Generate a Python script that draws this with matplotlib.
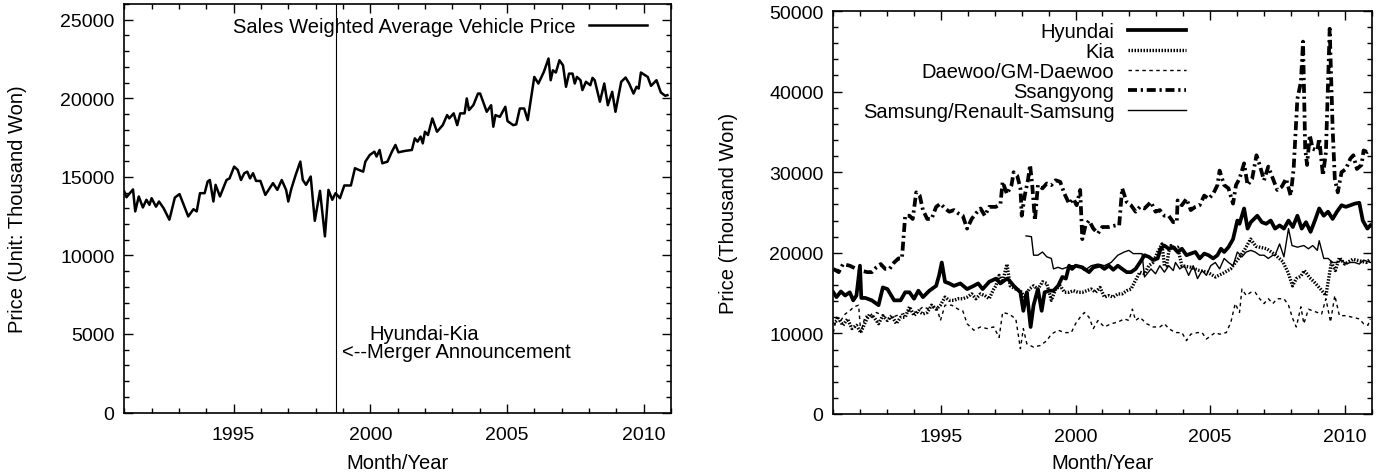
import matplotlib
matplotlib.use('Agg')
import matplotlib.pyplot as plt
from matplotlib.ticker import MultipleLocator

plt.rcParams['font.family'] = ['Liberation Sans', 'DejaVu Sans']
plt.rcParams['font.size'] = 14.5

# ---------------- Left panel: sales weighted average price ----------------
avg_year = [1991.00, 1991.08, 1991.32, 1991.40, 1991.53, 1991.68, 1991.81, 1991.92, 1992.00,
            1992.16, 1992.27, 1992.44, 1992.65, 1992.85, 1993.02, 1993.34, 1993.53, 1993.65,
            1993.77, 1993.94, 1994.05, 1994.13, 1994.26, 1994.34, 1994.50, 1994.74, 1994.85,
            1995.02, 1995.15, 1995.27, 1995.39, 1995.50, 1995.60, 1995.71, 1995.82, 1995.98,
            1996.16, 1996.44, 1996.60, 1996.76, 1996.92, 1997.00, 1997.11, 1997.27, 1997.44,
            1997.53, 1997.65, 1997.82, 1997.97, 1998.16, 1998.34, 1998.47, 1998.61, 1998.73,
            1998.89, 1999.05, 1999.29, 1999.44, 1999.58, 1999.74, 1999.82, 1999.98, 2000.15,
            2000.23, 2000.34, 2000.44, 2000.63, 2000.79, 2000.92, 2001.03, 2001.27, 2001.52,
            2001.63, 2001.73, 2001.84, 2001.92, 2002.00, 2002.11, 2002.27, 2002.44, 2002.65,
            2002.81, 2002.89, 2003.05, 2003.18, 2003.29, 2003.45, 2003.53, 2003.61, 2003.77,
            2003.94, 2004.02, 2004.26, 2004.42, 2004.50, 2004.58, 2004.74, 2004.94, 2005.02,
            2005.23, 2005.34, 2005.47, 2005.63, 2005.76, 2006.00, 2006.15, 2006.35, 2006.52,
            2006.60, 2006.68, 2006.79, 2006.92, 2007.05, 2007.16, 2007.27, 2007.40, 2007.48,
            2007.56, 2007.69, 2007.76, 2007.89, 2008.05, 2008.13, 2008.21, 2008.40, 2008.56,
            2008.69, 2008.85, 2008.97, 2009.18, 2009.34, 2009.47, 2009.63, 2009.74, 2009.82,
            2009.90, 2010.15, 2010.27, 2010.47, 2010.63, 2010.79, 2010.87]
avg_price = [14065, 13700, 14200, 12800, 13750, 13050, 13540, 13220, 13640,
             13100, 13430, 13000, 12270, 13680, 13900, 12480, 12940, 12800,
             13960, 13960, 14700, 14800, 13430, 14490, 13750, 14800, 14900,
             15650, 15440, 14800, 15230, 15330, 14900, 15230, 14740, 14740,
             13850, 14600, 14170, 14800, 14170, 13430, 14230, 15120, 15970,
             14800, 14490, 15020, 12200, 14110, 11210, 14170, 13540, 13960,
             13640, 14450, 14450, 15550, 15440, 15330, 15970, 16390, 16600,
             16290, 16710, 15860, 15970, 16600, 17030, 16560, 16650, 16710,
             17450, 17240, 17560, 17130, 17870, 17660, 18720, 17870, 18290,
             18930, 18720, 19040, 18290, 19040, 19040, 19990, 19250, 19560,
             20300, 20300, 19140, 19560, 18190, 18930, 18820, 19460, 18550,
             18290, 18340, 19350, 19350, 18610, 21360, 20940, 21680, 22530,
             21150, 21780, 21640, 22420, 22100, 20730, 21570, 21570, 20940,
             21360, 21150, 20520, 21050, 20830, 21300, 21150, 19780, 20940,
             19560, 20410, 19140, 21050, 21320, 20940, 20300, 20730, 20620,
             21640, 21360, 20790, 21150, 20370, 20160, 20200]
merger_year = 1998.74

# ---------------- Right panel: price by maker ----------------
hy_year = [1991.00, 1991.12, 1991.28, 1991.44, 1991.61, 1991.74, 1991.86, 1991.99, 1992.04,
           1992.19, 1992.43, 1992.68, 1992.84, 1993.01, 1993.26, 1993.50, 1993.67, 1993.83,
           1994.00, 1994.16, 1994.33, 1994.57, 1994.82, 1994.93, 1995.03, 1995.15, 1995.31,
           1995.48, 1995.72, 1995.97, 1996.22, 1996.38, 1996.55, 1996.79, 1997.04, 1997.21,
           1997.45, 1997.53, 1997.70, 1997.95, 1998.06, 1998.19, 1998.33, 1998.44, 1998.60,
           1998.74, 1998.85, 1999.02, 1999.18, 1999.35, 1999.51, 1999.64, 1999.76, 1999.87,
           2000.00, 2000.25, 2000.50, 2000.66, 2000.91, 2001.07, 2001.24, 2001.40, 2001.57,
           2001.73, 2001.90, 2002.06, 2002.23, 2002.39, 2002.56, 2002.72, 2002.88, 2003.05,
           2003.16, 2003.30, 2003.46, 2003.63, 2003.79, 2003.95, 2004.12, 2004.28, 2004.45,
           2004.61, 2004.78, 2004.94, 2005.11, 2005.27, 2005.40, 2005.52, 2005.68, 2005.85,
           2006.01, 2006.09, 2006.26, 2006.39, 2006.51, 2006.75, 2006.92, 2007.08, 2007.25,
           2007.41, 2007.58, 2007.74, 2007.91, 2008.07, 2008.24, 2008.40, 2008.56, 2008.73,
           2008.89, 2009.05, 2009.22, 2009.38, 2009.55, 2009.71, 2009.88, 2010.04, 2010.21,
           2010.37, 2010.54, 2010.67, 2010.84, 2010.95]
hy_price = [15100, 14500, 15200, 14700, 15100, 14100, 14700, 18400, 14400,
            14400, 14100, 13500, 15700, 15500, 14100, 14100, 15100, 15100,
            14300, 15300, 14500, 15300, 15900, 17200, 18800, 16400, 16200,
            15900, 16200, 15500, 15900, 16200, 15500, 16400, 16800, 16200,
            16800, 16600, 15900, 15100, 12800, 15100, 10800, 13500, 15500,
            12800, 15100, 15300, 15300, 15900, 17000, 16800, 18400, 18000,
            18400, 18200, 17600, 18200, 18400, 18000, 18400, 17900, 18400,
            18000, 17600, 17600, 18000, 18800, 19700, 19500, 19100, 19300,
            20500, 20900, 20500, 20700, 20100, 20500, 19700, 19900, 20100,
            19300, 19900, 19700, 19300, 19700, 20500, 20100, 20700, 21700,
            24000, 23600, 25500, 23000, 23800, 24600, 23800, 23600, 24000,
            23000, 23400, 23000, 24000, 23200, 24600, 23000, 23800, 22600,
            24000, 25500, 24600, 25100, 24200, 25100, 25900, 25700, 25900,
            26100, 26200, 24000, 23000, 23400]

kia_year = [1991.00, 1991.20, 1991.36, 1991.53, 1991.69, 1991.86, 1992.02, 1992.19, 1992.35,
            1992.51, 1992.68, 1992.84, 1993.01, 1993.17, 1993.34, 1993.50, 1993.67, 1993.83,
            1994.00, 1994.16, 1994.33, 1994.49, 1994.65, 1994.82, 1994.98, 1995.15, 1995.31,
            1995.48, 1995.64, 1995.81, 1995.97, 1996.14, 1996.30, 1996.47, 1996.63, 1996.79,
            1996.96, 1997.04, 1997.16, 1997.29, 1997.45, 1997.57, 1997.78, 1997.95, 1998.11,
            1998.28, 1998.44, 1998.60, 1998.77, 1998.93, 1999.10, 1999.26, 1999.43, 1999.59,
            1999.76, 1999.92, 2000.09, 2000.25, 2000.42, 2000.58, 2000.74, 2000.91, 2001.07,
            2001.24, 2001.40, 2001.57, 2001.73, 2001.90, 2002.06, 2002.23, 2002.39, 2002.56,
            2002.72, 2002.88, 2003.05, 2003.21, 2003.30, 2003.38, 2003.46, 2003.54, 2003.63,
            2003.79, 2003.95, 2004.28, 2004.60, 2004.90, 2005.20, 2005.50, 2005.76, 2006.10,
            2006.30, 2006.50, 2006.70, 2007.10, 2007.40, 2007.70, 2007.90, 2008.06, 2008.20,
            2008.37, 2008.50, 2008.70, 2008.86, 2009.10, 2009.30, 2009.50, 2009.65, 2009.80,
            2010.00, 2010.30, 2010.55, 2010.80, 2010.95]
kia_price = [11200, 11800, 11000, 11800, 10600, 11000, 10100, 11400, 12400,
             12000, 11200, 12200, 11600, 12200, 11200, 12000, 12000, 13300,
             12200, 12800, 12400, 12600, 13500, 13000, 13500, 14500, 14100,
             14100, 14300, 14300, 14500, 14900, 14300, 14900, 14700, 14300,
             15500, 15900, 17200, 16400, 18600, 15900, 15500, 15300, 14500,
             15500, 15900, 15500, 16400, 16200, 14100, 15500, 15900, 15100,
             15100, 15300, 15100, 15100, 15300, 15500, 15100, 15700, 14500,
             14700, 14500, 14900, 14900, 15300, 15500, 16600, 17600, 17400,
             18400, 18800, 20100, 21100, 18400, 18400, 20100, 20900, 20500,
             20700, 18400, 18200, 17800, 17600, 17000, 17500, 18000, 19500,
             20500, 21700, 20800, 20500, 19800, 18900, 17500, 15900, 16800,
             17100, 17800, 16900, 16400, 15500, 14700, 18800, 17800, 19400,
             18600, 19200, 19000, 18800, 19200]

dw_year = [1991.00, 1991.12, 1991.28, 1991.44, 1991.61, 1991.77, 1991.94, 1992.02, 1992.19,
           1992.35, 1992.60, 1992.84, 1993.09, 1993.34, 1993.58, 1993.83, 1994.08, 1994.33,
           1994.57, 1994.82, 1994.98, 1995.15, 1995.40, 1995.64, 1995.81, 1995.97, 1996.22,
           1996.47, 1996.71, 1996.96, 1997.16, 1997.29, 1997.53, 1997.78, 1997.95, 1998.06,
           1998.19, 1998.44, 1998.69, 1998.93, 1999.10, 1999.35, 1999.59, 1999.84, 2000.00,
           2000.17, 2000.33, 2000.50, 2000.66, 2000.83, 2001.07, 2001.32, 2001.57, 2001.81,
           2001.98, 2002.11, 2002.23, 2002.39, 2002.64, 2002.88, 2003.13, 2003.30, 2003.46,
           2003.71, 2003.95, 2004.12, 2004.28, 2004.53, 2004.70, 2004.86, 2005.02, 2005.19,
           2005.35, 2005.60, 2005.77, 2005.93, 2006.09, 2006.18, 2006.34, 2006.51, 2006.67,
           2006.84, 2007.00, 2007.16, 2007.33, 2007.49, 2007.74, 2007.91, 2008.07, 2008.20,
           2008.37, 2008.48, 2008.65, 2008.81, 2008.98, 2009.14, 2009.30, 2009.47, 2009.63,
           2009.80, 2010.04, 2010.29, 2010.54, 2010.70, 2010.86, 2010.95]
dw_price = [10100, 12000, 11600, 12400, 12800, 13300, 13500, 10100, 12200,
            11800, 12600, 12200, 11800, 12200, 12400, 12800, 12600, 13300,
            13000, 13500, 11600, 13500, 13500, 13000, 12800, 11200, 10400,
            10800, 10600, 10800, 9500, 12600, 12400, 11800, 8100, 10600,
            8700, 8300, 8500, 9100, 9900, 10400, 10100, 10100, 11200,
            12000, 12600, 12000, 10600, 11600, 10800, 11200, 11400, 11800,
            11600, 13000, 11600, 12000, 11200, 10800, 10800, 11200, 10600,
            10100, 10100, 9100, 9900, 10100, 10100, 9300, 9700, 10100,
            9900, 10100, 11400, 13700, 12600, 15500, 14700, 15100, 15100,
            14300, 13700, 14300, 13700, 14300, 14300, 13500, 11800, 10800,
            13300, 11200, 13000, 12800, 12600, 12400, 14300, 11400, 14700,
            12200, 12200, 12000, 11800, 11200, 11000, 11800]

ss_year = [1991.00, 1991.20, 1991.36, 1991.61, 1991.86, 1992.02, 1992.27, 1992.43, 1992.60,
           1992.76, 1992.93, 1993.09, 1993.26, 1993.42, 1993.55, 1993.67, 1993.83, 1993.95,
           1994.08, 1994.21, 1994.33, 1994.49, 1994.65, 1994.82, 1994.98, 1995.15, 1995.31,
           1995.48, 1995.64, 1995.81, 1995.97, 1996.14, 1996.30, 1996.47, 1996.63, 1996.79,
           1997.04, 1997.21, 1997.29, 1997.45, 1997.62, 1997.70, 1997.83, 1997.95, 1998.00,
           1998.11, 1998.23, 1998.31, 1998.39, 1998.49, 1998.60, 1998.77, 1998.93, 1999.10,
           1999.26, 1999.43, 1999.59, 1999.76, 1999.92, 2000.04, 2000.17, 2000.25, 2000.37,
           2000.50, 2000.66, 2000.83, 2000.99, 2001.24, 2001.49, 2001.62, 2001.73, 2001.90,
           2002.06, 2002.23, 2002.39, 2002.56, 2002.80, 2002.97, 2003.13, 2003.30, 2003.46,
           2003.63, 2003.76, 2003.79, 2003.95, 2004.12, 2004.28, 2004.45, 2004.61, 2004.78,
           2004.94, 2005.11, 2005.27, 2005.35, 2005.52, 2005.68, 2005.85, 2005.96, 2006.09,
           2006.26, 2006.39, 2006.56, 2006.72, 2006.84, 2007.00, 2007.16, 2007.33, 2007.49,
           2007.66, 2007.82, 2007.99, 2008.10, 2008.24, 2008.37, 2008.45, 2008.53, 2008.60,
           2008.70, 2008.81, 2008.98, 2009.05, 2009.19, 2009.30, 2009.44, 2009.55, 2009.63,
           2009.74, 2009.88, 2010.04, 2010.21, 2010.32, 2010.45, 2010.62, 2010.70, 2010.84,
           2010.95]
ss_price = [18000, 17600, 18600, 18400, 18000, 17800, 17600, 17600, 18200,
            18600, 18000, 18000, 18800, 19300, 19300, 24600, 24600, 24200,
            27500, 27100, 25300, 24200, 24200, 25700, 26100, 25500, 25100,
            25300, 24900, 24600, 23000, 24200, 24900, 25500, 24600, 25700,
            25700, 26100, 28800, 27300, 28400, 30000, 29600, 28000, 24600,
            27100, 29000, 30900, 28400, 24000, 28400, 28000, 28600, 28400,
            29000, 28800, 27300, 26100, 26700, 25900, 27800, 21700, 23400,
            24000, 23000, 22400, 23200, 23200, 23400, 23400, 28000, 26300,
            25900, 25100, 25700, 25500, 26300, 25100, 25300, 24600, 24600,
            23800, 23800, 26500, 25900, 26700, 25300, 25700, 25900, 27100,
            26700, 27300, 28400, 30200, 28400, 28000, 26100, 28400, 29200,
            31100, 28400, 29200, 32100, 30900, 29000, 30700, 29200, 27800,
            28200, 29200, 27100, 30400, 39100, 41200, 46200, 32900, 30900,
            34600, 32900, 32700, 34200, 29600, 32500, 47800, 35400, 29200,
            27500, 30000, 30400, 31700, 32100, 30400, 30900, 32700, 32500,
            32700]

sm_year = [1998.16, 1998.36, 1998.44, 1998.60, 1998.77, 1998.93, 1999.10, 1999.18, 1999.35,
           1999.51, 1999.84, 2000.09, 2000.33, 2000.58, 2000.83, 2001.07, 2001.32, 2001.57,
           2001.81, 2001.98, 2002.14, 2002.47, 2002.56, 2002.80, 2002.97, 2003.13, 2003.30,
           2003.46, 2003.63, 2003.71, 2003.87, 2004.04, 2004.20, 2004.37, 2004.53, 2004.70,
           2004.86, 2005.02, 2005.19, 2005.35, 2005.52, 2005.68, 2005.85, 2006.01, 2006.18,
           2006.34, 2006.51, 2006.67, 2006.84, 2007.00, 2007.16, 2007.33, 2007.41, 2007.58,
           2007.74, 2007.91, 2008.04, 2008.24, 2008.48, 2008.65, 2008.81, 2008.98, 2009.05,
           2009.22, 2009.38, 2009.55, 2009.71, 2009.88, 2010.04, 2010.21, 2010.37, 2010.54,
           2010.70, 2010.95]
sm_price = [22100, 22000, 19700, 19700, 20100, 19500, 19300, 18000, 18200,
            18000, 18400, 18400, 17800, 18400, 18600, 18400, 18800, 19700,
            20100, 20300, 19900, 19900, 17000, 18000, 17400, 18400, 17600,
            18400, 17800, 18800, 18000, 18400, 17200, 18400, 16800, 17800,
            17200, 18400, 18800, 18000, 19300, 18800, 18400, 20100, 19500,
            20100, 20300, 20100, 19700, 19700, 19300, 19700, 19700, 21100,
            19500, 23000, 20900, 20700, 20900, 20500, 20900, 20300, 21500,
            19300, 19300, 18800, 18800, 19100, 18600, 18800, 18800, 18600,
            19100, 18800]

series = [
    ('Hyundai', hy_year, hy_price, dict(lw=2.7, ls='-')),
    ('Kia', kia_year, kia_price, dict(lw=2.4, ls=(0, (0.45, 0.45)))),
    ('Daewoo/GM-Daewoo', dw_year, dw_price, dict(lw=1.0, ls=(0, (2.5, 2.5)))),
    ('Ssangyong', ss_year, ss_price, dict(lw=2.7, ls=(0, (2.4, 1.0, 0.6, 1.0)))),
    ('Samsung/Renault-Samsung', sm_year, sm_price, dict(lw=1.0, ls='-')),
]

TICK_FS = 14
TEXT_FS = 14.5


def style(ax, ymax, ymajor, yminor):
    ax.set_xlim(1991, 2011)
    ax.set_ylim(0, ymax)
    ax.xaxis.set_major_locator(MultipleLocator(5))
    ax.xaxis.set_minor_locator(MultipleLocator(1))
    ax.yaxis.set_major_locator(MultipleLocator(ymajor))
    ax.yaxis.set_minor_locator(MultipleLocator(yminor))
    ax.tick_params(which='both', direction='in', top=True, right=True,
                   width=1.0, colors='black', labelsize=TICK_FS)
    ax.tick_params(which='major', length=6.5)
    ax.tick_params(which='minor', length=3.4)
    ax.tick_params(axis='x', which='major', pad=10)
    ax.tick_params(axis='y', which='major', pad=7)
    for s in ax.spines.values():
        s.set_linewidth(1.2)


fig = plt.figure(figsize=(13.84, 4.77), dpi=100)

ax1 = fig.add_axes([0.0898, 0.1331, 0.3950, 0.8564])
style(ax1, 26000, 5000, 1000)
ax1.plot(avg_year, avg_price, color='black', lw=1.8,
         label='Sales Weighted Average Vehicle Price')
ax1.axvline(merger_year, color='black', lw=0.8)
ax1.text(1999.95, 5000, 'Hyundai-Kia', ha='left', va='center', fontsize=TEXT_FS)
ax1.text(1998.98, 3900, '<--Merger Announcement', ha='left', va='center', fontsize=TEXT_FS)
ax1.set_xlabel('Month/Year', fontsize=TEXT_FS)
ax1.set_ylabel('Price (Unit: Thousand Won)', fontsize=TEXT_FS)
ax1.yaxis.set_label_coords(-0.178, 0.5)
ax1.xaxis.set_label_coords(0.5, -0.1)
ax1.legend(loc='upper right', bbox_to_anchor=(0.956, 0.968), frameon=False,
           markerfirst=False, handlelength=2.9, handletextpad=0.65,
           borderpad=0, borderaxespad=0, fontsize=TEXT_FS)

ax2 = fig.add_axes([0.6021, 0.1300, 0.3890, 0.8448])
style(ax2, 50000, 10000, 2000)
for name, yrs, vals, kw in series:
    ax2.plot(yrs, vals, color='black', label=name, **kw)
ax2.set_xlabel('Month/Year', fontsize=TEXT_FS)
ax2.set_ylabel('Price (Thousand Won)', fontsize=TEXT_FS)
ax2.yaxis.set_label_coords(-0.177, 0.5)
ax2.xaxis.set_label_coords(0.5, -0.097)
ax2.legend(loc='upper right', bbox_to_anchor=(0.655, 0.972), frameon=False,
           markerfirst=False, handlelength=2.9, handletextpad=0.65,
           labelspacing=0.05, borderpad=0, borderaxespad=0, fontsize=TEXT_FS)

fig.savefig('out.png', dpi=100)
